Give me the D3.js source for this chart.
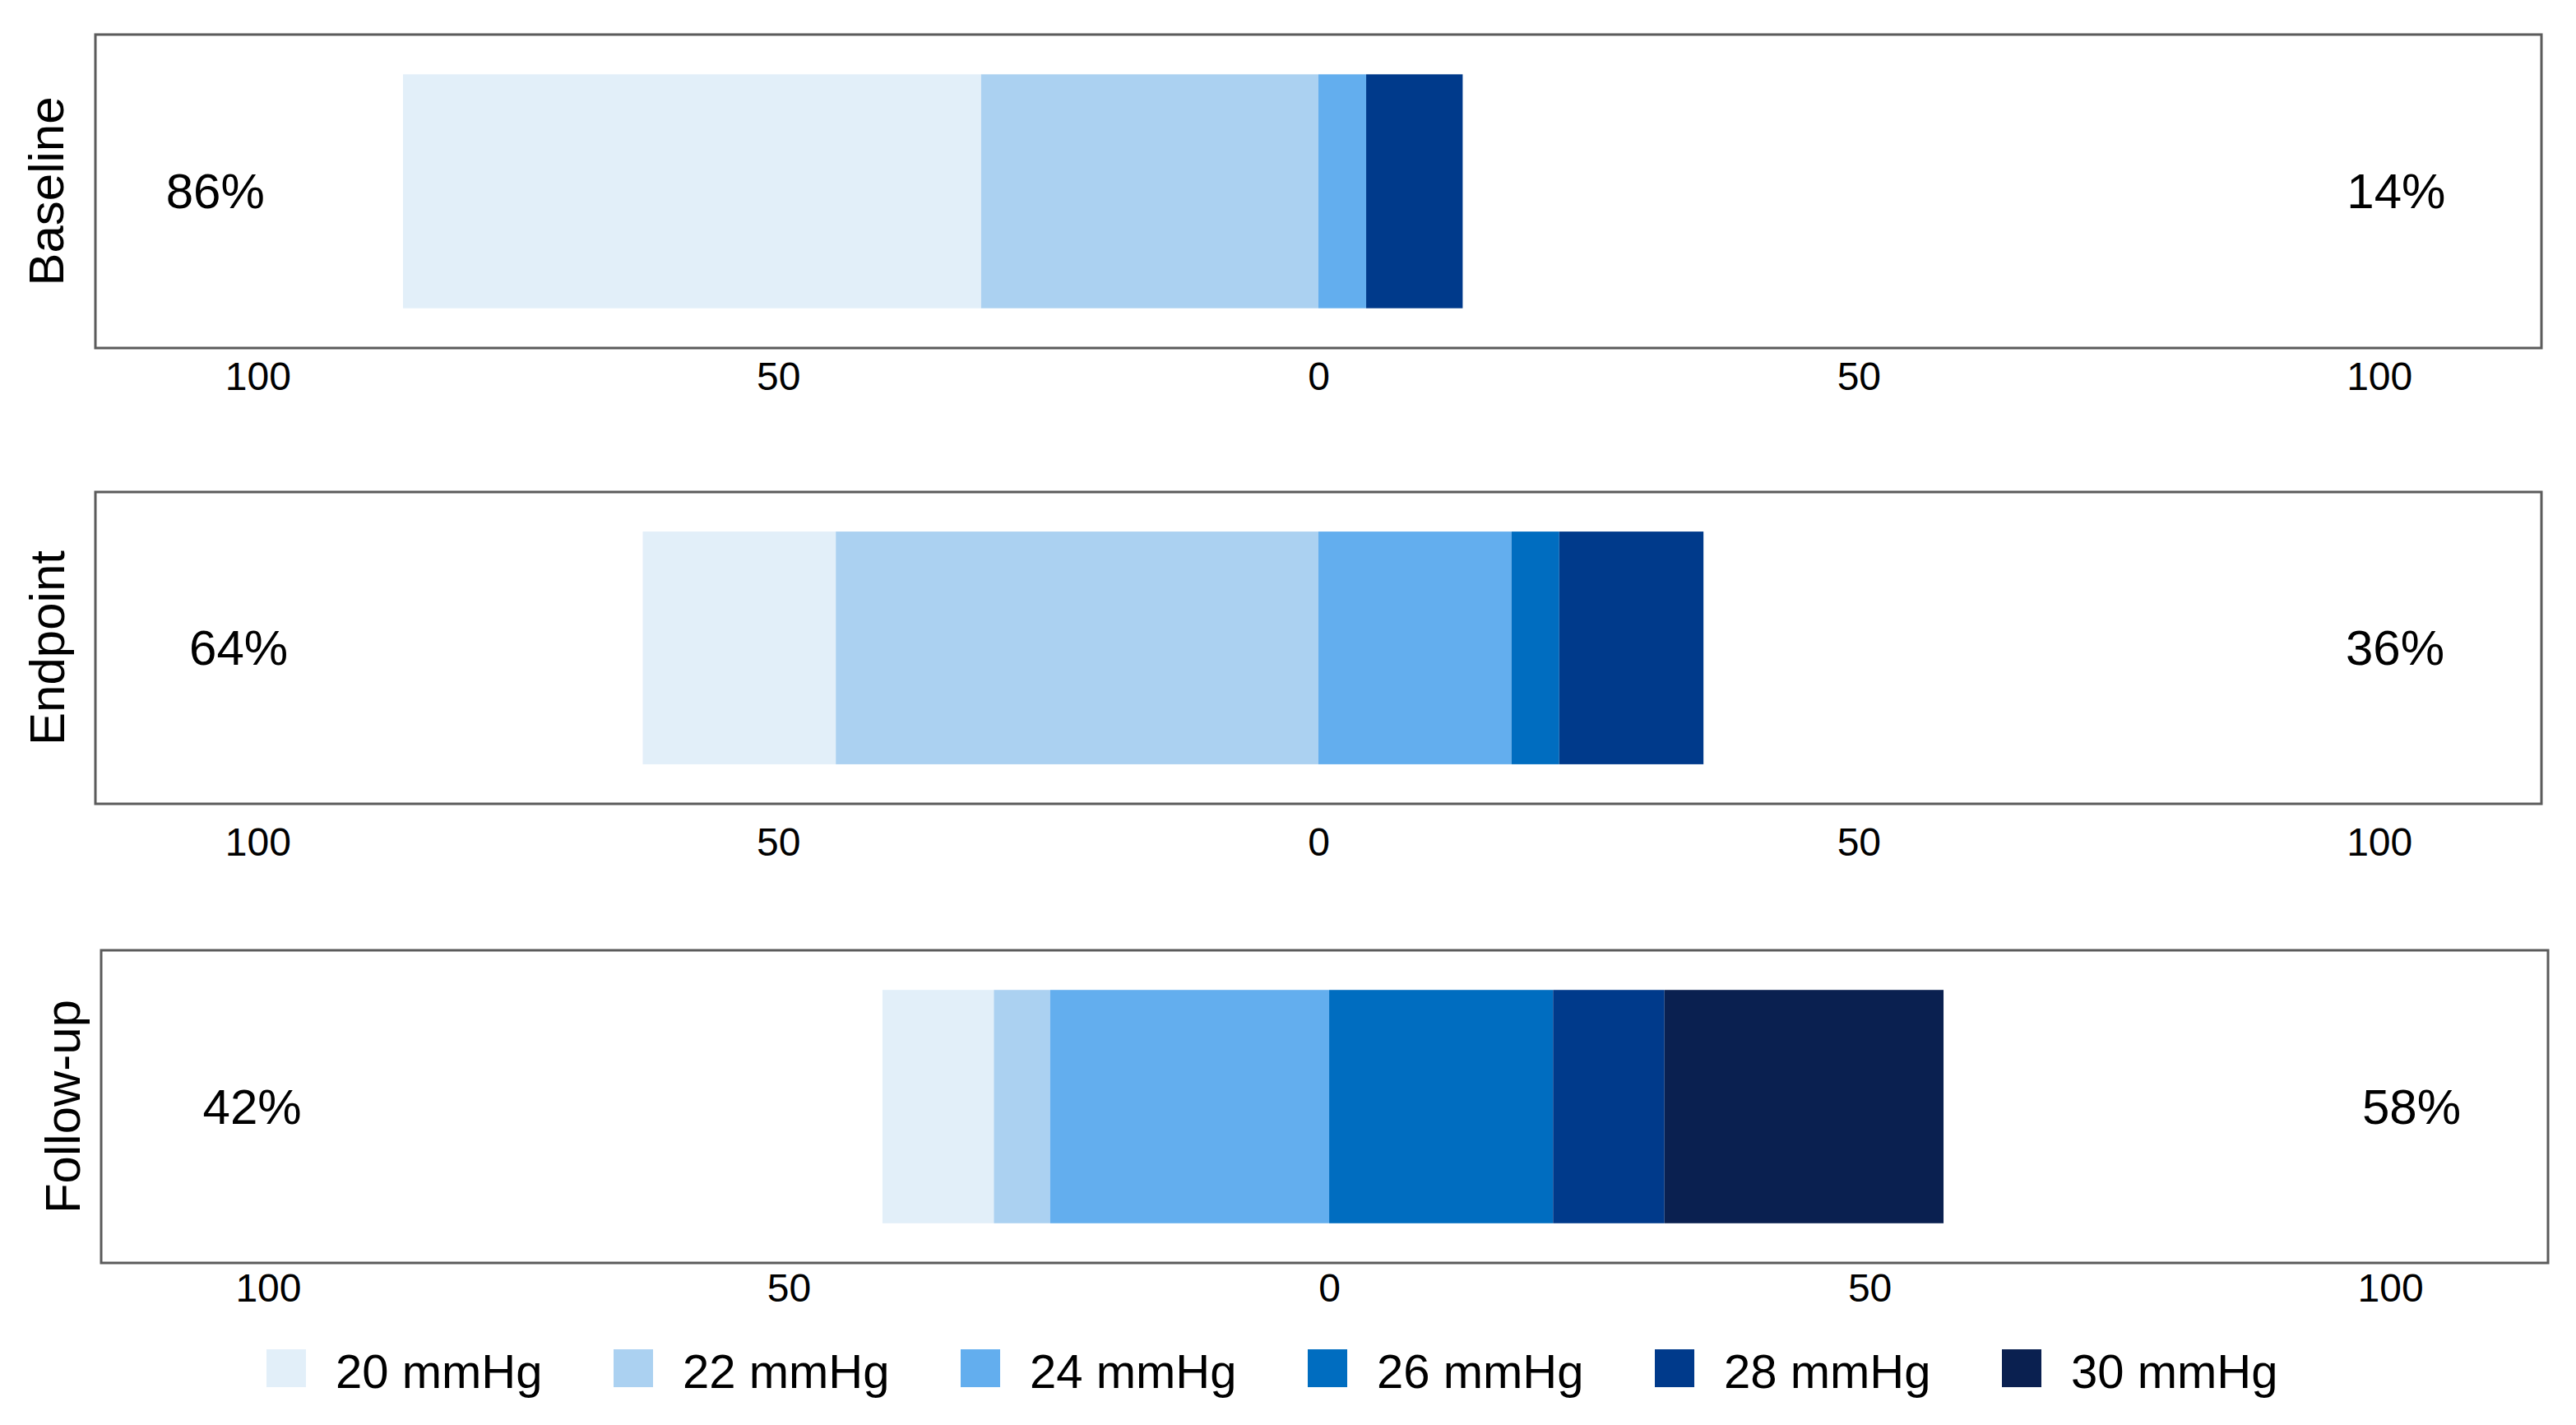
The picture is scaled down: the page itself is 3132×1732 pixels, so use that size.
<!DOCTYPE html>
<html>
<head>
<meta charset="utf-8">
<script src="https://cdn.jsdelivr.net/npm/d3@7"></script>
<style>
  body { margin: 0; background: #fff; }
  text { font-family: "Liberation Sans", Arial, Helvetica, sans-serif; fill: #000; }
</style>
</head>
<body>
<div id="chart"></div>
<script>
// data (% of eyes per pressure level)
const rows = ["Baseline", "Endpoint", "Follow-up"];
const levels = ["20 mmHg", "22 mmHg", "24 mmHg", "26 mmHg", "28 mmHg", "30 mmHg"];
const baseline = [54.5, 31.8, 4.5, 0, 9.1, 0];
const endpoint = [18.2, 45.5, 18.2, 4.5, 13.6, 0];
const followUp = [10.5, 5.3, 26.3, 21.1, 10.5, 26.3];
// how many levels sit left of zero in each row
const leftCount = [2, 2, 3];
const tickVals = [-100, -50, 0, 50, 100];

const colors = ["#e2eff9", "#abd1f1", "#63aeee", "#006dc0", "#003a8b", "#0a2050"];

const W = 3132, H = 1732;

// panel boxes (pixels) + where the labels go
const panels = [
  {left: 116, right: 3090, top: 42, bottom: 423, shift: 0, tickY: 474, rowX: 77, pct: [-104, 101.6]},
  {left: 116, right: 3090, top: 598, bottom: 977, shift: 0, tickY: 1040, rowX: 78, pct: [-101.8, 101.5]},
  {left: 123, right: 3098, top: 1155, bottom: 1535, shift: 0.43, tickY: 1582, rowX: 97, pct: [-101.5, 102]}
];

const allValues = [baseline, endpoint, followUp];

const svg = d3.select("#chart").append("svg")
  .attr("width", W)
  .attr("height", H);

svg.append("rect").attr("width", W).attr("height", H).attr("fill", "#fff");

allValues.forEach(function(vals, i) {
  const p = panels[i];

  const x = d3.scaleLinear()
    .domain([-115.3 - p.shift, 115.3 - p.shift])
    .range([p.left, p.right]);

  // stack the segments: left ones end at zero, right ones start at zero
  const nl = leftCount[i];
  const leftTotal = d3.sum(vals.slice(0, nl));
  const rightTotal = d3.sum(vals.slice(nl));
  let start = -leftTotal;
  const segs = vals.map(function(v, j) {
    const s = {x0: start, x1: start + v, level: j};
    start += v;
    return s;
  });

  const h = p.bottom - p.top;
  const y = d3.scaleBand()
    .domain([rows[i]])
    .range([p.top, p.bottom])
    .paddingInner(0)
    .paddingOuter(0.17);

  const g = svg.append("g");

  g.selectAll("rect.seg")
    .data(segs.filter(d => d.x1 > d.x0))
    .enter().append("rect")
    .attr("class", "seg")
    .attr("x", d => x(d.x0))
    .attr("width", d => x(d.x1) - x(d.x0))
    .attr("y", y(rows[i]))
    .attr("height", y.bandwidth())
    .attr("fill", d => colors[d.level]);

  // frame
  g.append("rect")
    .attr("x", p.left)
    .attr("y", p.top)
    .attr("width", p.right - p.left)
    .attr("height", h)
    .attr("fill", "none")
    .attr("stroke", "#5b5b5b")
    .attr("stroke-width", 3);

  // axis, only the labels show
  const axis = g.append("g")
    .attr("transform", "translate(0," + p.tickY + ")")
    .call(d3.axisBottom(x).tickValues(tickVals).tickSize(0).tickFormat(d => Math.abs(d)));
  axis.select(".domain").remove();
  axis.selectAll("text")
    .attr("y", 0)
    .attr("dy", 0)
    // the 50s sit a touch further out in the original
    .attr("dx", d => Math.abs(d) === 50 ? Math.sign(d) * 12 : 0)
    .style("font-size", "48px")
    .style("font-family", "'Liberation Sans', Arial, sans-serif")
    .attr("fill", "#000");

  // percentages
  g.append("text")
    .attr("x", x(p.pct[0]))
    .attr("y", (p.top + p.bottom) / 2)
    .attr("text-anchor", "middle")
    .attr("dominant-baseline", "central")
    .style("font-size", "60px")
    .text(Math.round(leftTotal) + "%");

  g.append("text")
    .attr("x", x(p.pct[1]))
    .attr("y", (p.top + p.bottom) / 2)
    .attr("text-anchor", "middle")
    .attr("dominant-baseline", "central")
    .style("font-size", "60px")
    .text(Math.round(rightTotal) + "%");

  // row name, rotated
  g.append("text")
    .attr("transform", "translate(" + p.rowX + "," + (p.top + p.bottom) / 2 + ") rotate(-90)")
    .attr("text-anchor", "middle")
    .style("font-size", "60px")
    .text(rows[i]);
});

// legend along the bottom
const legend = svg.append("g").attr("transform", "translate(324,1640)");
const lx = d3.scalePoint().domain(levels).range([0, 2110]);

const item = legend.selectAll("g")
  .data(levels)
  .enter().append("g")
  .attr("transform", d => "translate(" + lx(d) + ",0)");

item.append("rect")
  .attr("width", 48)
  .attr("height", 46)
  .attr("fill", (d, i) => colors[i]);

item.append("text")
  .attr("x", 84)
  .attr("y", 47)
  .style("font-size", "58px")
  .text(d => d);
</script>
</body>
</html>
